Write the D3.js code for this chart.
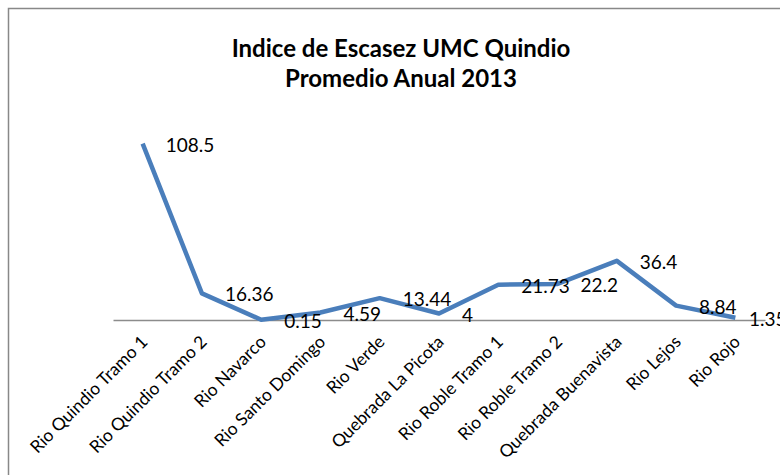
<!DOCTYPE html>
<html>
<head>
<meta charset="utf-8">
<script src="https://cdn.jsdelivr.net/npm/d3@7"></script>
<style>
  body { margin: 0; background: #fff; }
  text { font-family: Lato, "Open Sans", sans-serif; }
</style>
</head>
<body>
<div id="chart-area"></div>
<script>
const categories = ['Rio Quindio Tramo 1', 'Rio Quindio Tramo 2', 'Rio Navarco', 'Rio Santo Domingo',
    'Rio Verde', 'Quebrada La Picota', 'Rio Roble Tramo 1', 'Rio Roble Tramo 2',
    'Quebrada Buenavista', 'Rio Lejos', 'Rio Rojo'];
const values = [108.5, 16.36, 0.15, 4.59, 13.44, 4, 21.73, 22.2, 36.4, 8.84, 1.35];
const valueLabels = ['108.5', '16.36', '0.15', '4.59', '13.44', '4', '21.73', '22.2', '36.4', '8.84', '1.35'];
const titleLines = ['Indice de Escasez UMC Quindio', 'Promedio Anual 2013'];

const width = 780, height = 475;
const margin = { top: 125, right: 15, bottom: 155, left: 113 };
const plotW = 652, plotH = height - margin.top - margin.bottom;

const svg = d3.select('#chart-area').append('svg')
    .attr('width', width)
    .attr('height', height);

// chart frame, runs off the right and bottom edges like the original
svg.append('rect')
    .attr('x', 8.5).attr('y', 8.5)
    .attr('width', 800).attr('height', 500)
    .attr('fill', 'none')
    .attr('stroke', '#888')
    .attr('stroke-width', 1.5);

svg.append('g').selectAll('text')
    .data(titleLines)
    .join('text')
    .attr('x', 401)
    .attr('y', (d, i) => 57 + i * 30)
    .attr('text-anchor', 'middle')
    .attr('font-weight', 'bold')
    .attr('font-size', 24)
    .attr('fill', '#000')
    .text(d => d);

const g = svg.append('g')
    .attr('transform', `translate(${margin.left}, ${margin.top})`);

const x = d3.scaleBand()
    .domain(categories)
    .range([0, plotW]);

const y = d3.scaleLinear()
    .domain([0, 120])
    .range([plotH, 0]);

const xAxisCall = d3.axisBottom(x).tickSize(0).tickPadding(0);
const xAxis = g.append('g')
    .attr('transform', `translate(0, ${y(0)})`)
    .call(xAxisCall);
xAxis.select('.domain').attr('stroke', '#8c8c8c').attr('stroke-width', 1.5);
xAxis.selectAll('text')
    .attr('font-size', 17.5)
    .attr('fill', '#000')
    .attr('text-anchor', 'end')
    .attr('dy', null)
    .attr('y', 0)
    .attr('transform', 'translate(6, 23) rotate(-45)');

const line = d3.line()
    .x((d, i) => x(categories[i]) + x.bandwidth() / 2)
    .y(d => y(d));

g.append('path')
    .datum(values)
    .attr('fill', 'none')
    .attr('stroke', '#4a7ebb')
    .attr('stroke-width', 4.5)
    .attr('stroke-linejoin', 'round')
    .attr('d', line);

// labels sit to the right of each point, pulled in at the right edge
g.append('g').selectAll('text')
    .data(values)
    .join('text')
    .attr('x', (d, i) => Math.min(x(categories[i]) + x.bandwidth() / 2 + 23, width - margin.left - 31))
    .attr('y', d => y(d) + 8)
    .attr('font-size', 19)
    .attr('fill', '#000')
    .text((d, i) => valueLabels[i]);
</script>
</body>
</html>
